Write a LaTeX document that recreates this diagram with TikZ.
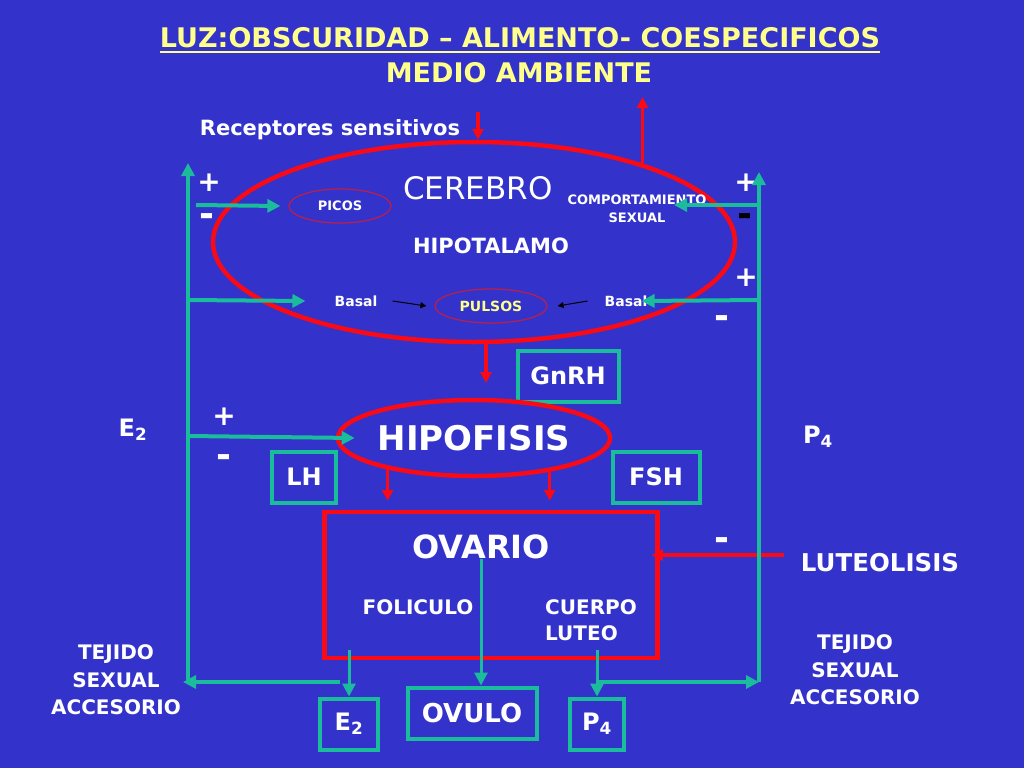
\documentclass[tikz,border=0pt]{standalone}
\usepackage{fontspec}
\setmainfont{DejaVu Sans}
\usetikzlibrary{arrows.meta,shapes.geometric}

\definecolor{fondo}{RGB}{51,51,204}
\definecolor{verde}{RGB}{26,188,156}
\definecolor{rojo}{RGB}{250,10,20}
\definecolor{rojofino}{RGB}{190,30,70}
\definecolor{amarillo}{RGB}{255,255,140}
\newcommand{\tamano}[2]{\fontsize{#1}{#2}\selectfont}

\begin{document}
\begin{tikzpicture}[x=1pt,y=-1pt,
  texto/.style={text=white,inner sep=0pt},
  caja/.style={draw=verde,line width=4pt,text=white,inner sep=0pt,font=\bfseries\tamano{24}{28}},
  rojoelip/.style={ellipse,draw=rojo,line width=4.5pt,inner sep=0pt},
  finaelip/.style={ellipse,draw=rojofino,line width=1.2pt,inner sep=0pt},
  signo/.style={text=white,inner sep=0pt,font=\bfseries\tamano{28}{28}},
  menos/.style={text=white,inner sep=0pt,font=\bfseries\tamano{36}{36}},
  lineaverde/.style={draw=verde,line width=4pt},
  flechaverde/.style={draw=verde,line width=4pt,-{Triangle[length=13pt,width=13pt]}},
  flecharoja/.style={draw=rojo,line width=3.5pt,-{Triangle[length=11pt,width=11pt]}},
  flechanegra/.style={draw=black,line width=1pt,-{Triangle[length=6pt,width=6pt]}}]

  % fondo
  \fill[fondo] (0,0) rectangle (1024,768);
  \useasboundingbox (0,0) rectangle (1024,768);

  % titulo
  \node[texto,text=amarillo,font=\bfseries\tamano{27}{30}] (titulo) at (520,38) {LUZ:OBSCURIDAD – ALIMENTO- COESPECIFICOS};
  \draw[amarillo,line width=2pt] ([yshift=-4pt]titulo.south west) -- ([yshift=-4pt]titulo.south east);
  \node[texto,text=amarillo,font=\bfseries\tamano{27}{30}] (medio) at (519,73) {MEDIO AMBIENTE};
  \node[texto,font=\bfseries\tamano{21}{24}] (recep) at (330,130) {Receptores sensitivos};

  % cerebro
  \node[rojoelip,minimum width=522,minimum height=200] (cereb) at (474,242) {};
  \node[texto,font=\tamano{31}{34}] (cerebro) at (478,188) {CEREBRO};
  \node[finaelip,minimum width=102,minimum height=34,text=white,font=\bfseries\tamano{13}{15}] (picos) at (340,206) {PICOS};
  \node[texto,align=center,font=\bfseries\tamano{13}{18}] (compo) at (637,209) {COMPORTAMIENTO\\SEXUAL};
  \node[texto,font=\bfseries\tamano{21}{24}] (hipot) at (491,246) {HIPOTALAMO};
  \node[texto,font=\bfseries\tamano{14}{16}] (basali) at (356,301) {Basal};
  \node[texto,font=\bfseries\tamano{14}{16}] (basald) at (626,301) {Basal};
  \node[finaelip,minimum width=112,minimum height=34,text=amarillo,font=\bfseries\tamano{14}{16}] (pulsos) at (491,306) {PULSOS};
  \draw[flechanegra] ([xshift=15pt]basali.east) -- ([xshift=-8pt]pulsos.west);
  \draw[flechanegra] ([xshift=-17pt]basald.west) -- ([xshift=10pt]pulsos.east);

  % hipofisis
  \node[caja,minimum width=101,minimum height=51] (gnrh) at (568,376) {GnRH};
  \node[rojoelip,minimum width=268,minimum height=76,text=white,font=\bfseries\tamano{34}{36}] (hipo) at (474,438) {HIPOFISIS};
  \node[caja,minimum width=64,minimum height=51] (lh) at (304,477) {LH};
  \node[caja,minimum width=87,minimum height=51] (fsh) at (656,477) {FSH};
  \node[texto,font=\bfseries\tamano{24}{28}] (e2l) at (133,430) {E\textsubscript{2}};
  \node[texto,font=\bfseries\tamano{24}{28}] (p4l) at (818,437) {P\textsubscript{4}};

  % ovario
  \node[draw=rojo,line width=4.5pt,minimum width=333,minimum height=146,inner sep=0pt] (ov) at (491,585) {};
  \node[texto,font=\bfseries\tamano{32}{34}] (ovt) at (481,547) {OVARIO};
  \node[texto,font=\bfseries\tamano{20}{24}] (fol) at (418,607) {FOLICULO};
  \node[texto,align=left,font=\bfseries\tamano{20}{26}] (cuerpo) at (591,620) {CUERPO\\LUTEO};
  \node[texto,font=\bfseries\tamano{24.5}{26}] (luteo) at (880,563) {LUTEOLISIS};
  \node[caja,minimum width=58,minimum height=51] (e2b) at (349,724) {E\textsubscript{2}};
  \node[caja,minimum width=129,minimum height=51,font=\bfseries\tamano{26}{28}] (ovulo) at (472,713) {OVULO};
  \node[caja,minimum width=54,minimum height=51] (p4b) at (597,724) {P\textsubscript{4}};
  \node[texto,align=center,font=\bfseries\tamano{20}{27.5}] (tejidoi) at (116,680) {TEJIDO\\SEXUAL\\ACCESORIO};
  \node[texto,align=center,font=\bfseries\tamano{20}{27.5}] (tejidod) at (855,670) {TEJIDO\\SEXUAL\\ACCESORIO};

  % signos
  \node[signo] (masa) at (209,183) {+};
  \node[menos] (menosa) at (207,220) {-};
  \node[signo] (masb) at (746,183) {+};
  \node[menos,text=black] (menosb) at (745,220) {-};
  \node[signo] (masc) at (746,278) {+};
  \node[menos] (menosc) at (722,322) {-};
  \node[signo] (masd) at (224,417) {+};
  \node[menos] (menosd) at (224,461) {-};
  \node[menos] (menose) at (722,544) {-};

  % puntos libres
  \coordinate (recepf) at (478,112);
  \coordinate (medio1) at (639,97);
  \coordinate (gnf) at (486,383);
  \coordinate (izqab) at (188,680);
  \coordinate (izqarr) at (188,163);
  \coordinate (izq1) at (196,205);
  \coordinate (izq2) at (188,300);
  \coordinate (izq3) at (188,436);
  \coordinate (izqh) at (340,682);
  \coordinate (derab) at (759,682);
  \coordinate (derarr) at (759,172);
  \coordinate (der1) at (759,205);
  \coordinate (der1f) at (674,205);
  \coordinate (der2) at (759,300);
  \coordinate (derh) at (598,682);
  \coordinate (lutf) at (784,555);

  % flechas rojas
  \draw[flecharoja] (recepf) -- (recepf |- cereb.north);
  \draw[flecharoja] (cereb.25) -- (cereb.25 |- medio1);
  \draw[flecharoja] (gnf |- cereb.south) -- (gnf);
  \draw[flecharoja,shorten >=9pt] (hipo.200) -- (hipo.200 |- ov.north);
  \draw[flecharoja,shorten >=9pt] (hipo.336) -- (hipo.336 |- ov.north);
  \draw[flecharoja,shorten >=-8pt] (lutf) -- (lutf -| ov.east);

  % retroalimentacion
  \draw[flechaverde] (izqab) -- (izqarr);
  \draw[flechaverde] (derab) -- (derarr);
  \draw[flechaverde] (izq1) -- ([xshift=-8pt]picos.west);
  \draw[flechaverde] (izq2) -- ([xshift=-29pt]basali.west);
  \draw[flechaverde] (izq3) -- ([xshift=19pt]hipo.west);
  \draw[flechaverde] (der1) -- (der1f);
  \draw[flechaverde] (der2) -- ([xshift=-6pt]basald.east);

  % ovario hacia abajo
  \draw[flechaverde,line width=3pt] (ovt.south) -- (ovt.south |- ovulo.north);
  \draw[flechaverde,line width=3pt] ([yshift=10pt]ov.south -| e2b) -- (e2b.north);
  \draw[flechaverde,line width=3pt] ([yshift=10pt]ov.south -| p4b) -- (p4b.north);
  \draw[flechaverde,shorten >=-5pt] (izqh) -- (izqh -| izqab);
  \draw[flechaverde] (derh) -- (derh -| derab);
\end{tikzpicture}
\end{document}
